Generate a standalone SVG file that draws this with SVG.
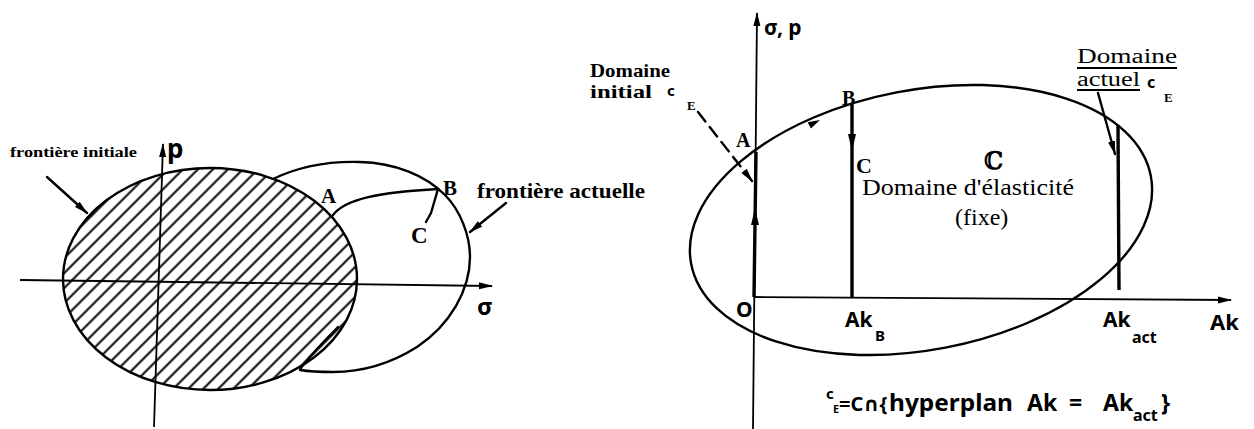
<svg xmlns="http://www.w3.org/2000/svg" width="1254" height="429" viewBox="0 0 1254 429">
<style>
.ln{fill:none;stroke:#000;stroke-width:2.4;stroke-linecap:round;stroke-linejoin:round}
.hz{fill:url(#hatch);stroke:#000;stroke-width:2.4}
.ax{fill:none;stroke:#000;stroke-width:1.8}
.thk{fill:none;stroke:#000;stroke-width:3.4}
.sb{font-family:"Liberation Serif",serif;font-weight:bold;fill:#000}
.sr{font-family:"Liberation Serif",serif;fill:#000}
.ss{font-family:"Noto Sans","DejaVu Sans",sans-serif;font-weight:bold;fill:#000}
.ah{fill:#000;stroke:none}
</style>
<defs>
<pattern id="hatch" patternUnits="userSpaceOnUse" width="10.6" height="10.6" patternTransform="rotate(45)">
<line x1="5.3" y1="-1" x2="5.3" y2="11.6" stroke="#000" stroke-width="2"/>
</pattern>
<marker id="arr" viewBox="0 0 14 8" refX="13" refY="4" markerWidth="14" markerHeight="8" markerUnits="userSpaceOnUse" orient="auto">
<path d="M0,0.5 L14,4 L0,7.5 z" fill="#000"/>
</marker>
</defs>
<rect width="1254" height="429" fill="#fff"/>

<!-- LEFT DIAGRAM -->
<g id="initial-boundary">
<ellipse cx="210" cy="279" rx="147" ry="111" class="hz"/>
<text class="sb" x="10" y="157" font-size="14" textLength="127" lengthAdjust="spacingAndGlyphs">frontière initiale</text>
</g>
<g id="actual-boundary">
<path class="ln" d="M273,179 C300,166 330,161 360,162 C395,163 425,175 445,195 C460,210 470,235 470,257 C470,290 450,325 417,347 C390,364 360,372 333,372 C318,372 306,371 300,370 C302,364 318,348 338,327"/>
<text class="sb" x="477" y="198" font-size="21" textLength="168" lengthAdjust="spacingAndGlyphs">frontière actuelle</text>
</g>
<g id="left-path">
<path class="ln" d="M333,215 C345,199 380,192 438,189"/>
<path class="ln" d="M438,189 L431,213 L426,222"/>
</g>
<g id="left-labels">
<text class="sb" x="321" y="203" font-size="21">A</text>
<text class="sb" x="443" y="195" font-size="21">B</text>
<text class="sb" x="411" y="243" font-size="23">C</text>
<text class="ss" x="167" y="158" font-size="26">p</text>
<text class="ss" x="477" y="315" font-size="24">σ</text>
</g>

<!-- RIGHT DIAGRAM -->
<g id="elastic-domain">
<ellipse cx="921" cy="220" rx="234" ry="130" transform="rotate(-10.85 921 220)" class="ln"/>
<text x="984" y="169" font-family="DejaVu Serif,serif" font-weight="bold" font-size="24">ℂ</text>
<text class="sr" x="862" y="195" font-size="23" textLength="212" lengthAdjust="spacingAndGlyphs">Domaine d'élasticité</text>
<text class="sr" x="955" y="225" font-size="24">(fixe)</text>
</g>
<g id="initial-domain">
<text class="sb" x="590" y="77" font-size="19" textLength="80" lengthAdjust="spacingAndGlyphs">Domaine</text>
<text class="sb" x="590" y="98" font-size="19" textLength="62" lengthAdjust="spacingAndGlyphs">initial</text>
<text class="ss" x="667" y="96" font-size="15">c</text>
<text class="sb" x="687" y="110" font-size="13">E</text>
</g>
<g id="actual-domain">
<text class="sr" x="1077" y="63" font-size="20" textLength="100" lengthAdjust="spacingAndGlyphs">Domaine</text>
<line x1="1077" y1="68" x2="1177" y2="68" stroke="#000" stroke-width="1.8"/>
<text class="sr" x="1077" y="86" font-size="20" textLength="63" lengthAdjust="spacingAndGlyphs">actuel</text>
<line x1="1077" y1="90" x2="1140" y2="90" stroke="#000" stroke-width="1.8"/>
<text class="ss" x="1147" y="88" font-size="16">c</text>
<text class="sb" x="1164" y="102" font-size="13">E</text>
</g>
<g id="right-labels">
<text class="ss" x="764" y="35" font-size="21">σ, p</text>
<text class="sb" x="736" y="147" font-size="20">A</text>
<text class="sb" x="842" y="105" font-size="20">B</text>
<text class="sb" x="856" y="173" font-size="22">C</text>
<text class="ss" x="736" y="317" font-size="21">O</text>
<text class="ss" x="845" y="327" font-size="21">Ak</text>
<text class="ss" x="875" y="341" font-size="15">B</text>
<text class="ss" x="1103" y="327" font-size="21">Ak</text>
<text class="ss" x="1132" y="343" font-size="16">act</text>
<text class="ss" x="1210" y="330" font-size="22">Ak</text>
</g>
<g id="formula">
<text class="ss" font-size="23">
<tspan x="826" y="399" font-size="15">c</tspan><tspan x="833" y="413" font-size="11">E</tspan><tspan x="839" y="411" font-size="20">=C∩{</tspan><tspan x="889" y="411" textLength="124" lengthAdjust="spacingAndGlyphs">hyperplan</tspan><tspan x="1027" y="411">Ak</tspan><tspan x="1069" y="411">=</tspan><tspan x="1103" y="411">Ak</tspan><tspan x="1133" y="421" font-size="16">act</tspan><tspan x="1161" y="411">}</tspan>
</text>
</g>

<!-- CONNECTORS -->
<g id="connectors">
<path class="ax" d="M20,280 L492,286" marker-end="url(#arr)"/>
<path class="ax" d="M154,427 L163,144" marker-end="url(#arr)"/>
<path class="ln" d="M47,177 L87,213" marker-end="url(#arr)"/>
<path class="ln" d="M506,203 L470,232" marker-end="url(#arr)"/>
<path class="ax" d="M753,429 L757,13" marker-end="url(#arr)"/>
<path class="ax" d="M755,297 L1231,300" marker-end="url(#arr)"/>
<path class="thk" d="M754,297 L756,152"/>
<path class="thk" d="M852,104 L852,297"/>
<path class="thk" d="M1118,125 L1119,290"/>
<path class="ln" d="M698,112 L752,181" stroke-dasharray="12 7" marker-end="url(#arr)"/>
<path class="ln" d="M1098,93 L1115,154" marker-end="url(#arr)"/>
<path class="ah" d="M755,208 L751,225 L759,225 z"/>
<path class="ah" d="M852,151 L848,134 L856,134 z"/>
<path class="ah" d="M820,120 L810.9,128.5 L807.7,122.3 z"/>
</g>
</svg>
